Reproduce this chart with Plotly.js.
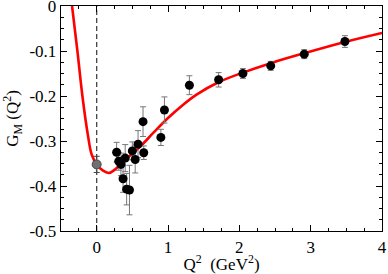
<!DOCTYPE html>
<html>
<head>
<meta charset="utf-8">
<script src="https://cdn.plot.ly/plotly-3.0.1.min.js"></script>
<style>html,body{margin:0;padding:0;background:#fff;}#chart{width:388px;height:274px;}</style>
</head>
<body>
<div id="chart"></div>
<script>
// Experimental data (black points)
var dataQ2 = [0.28, 0.31, 0.34, 0.37, 0.40, 0.42, 0.46, 0.50, 0.54, 0.58, 0.65, 0.66, 0.90, 0.95, 1.30, 1.71, 2.05, 2.44, 2.91, 3.48];
var dataGM = [-0.325, -0.345, -0.352, -0.384, -0.338, -0.407, -0.409, -0.322, -0.341, -0.307, -0.257, -0.326, -0.292, -0.231, -0.176, -0.164, -0.150, -0.133, -0.107, -0.079];
var dataErr = [0.022, 0.02, 0.025, 0.03, 0.03, 0.035, 0.055, 0.02, 0.03, 0.03, 0.033, 0.015, 0.018, 0.029, 0.021, 0.016, 0.011, 0.01, 0.01, 0.013];
// Point at Q2 = 0 (gray)
var zeroQ2 = [0];
var zeroGM = [-0.352];
var zeroErr = [0.018];
// Model curve (red)
var curveQ2 = [-0.345, -0.27, -0.2, -0.12, -0.07, 0, 0.09, 0.17, 0.26, 0.40, 0.6, 0.8, 1.0, 1.2, 1.4, 1.7, 2.05, 2.44, 2.91, 3.48, 4.0];
var curveGM = [0.0, -0.1, -0.2, -0.29, -0.33, -0.352, -0.366, -0.371, -0.363, -0.342, -0.314, -0.281, -0.249, -0.221, -0.197, -0.170, -0.148, -0.127, -0.105, -0.080, -0.060];
// Vertical dashed line at Q2 = 0
var vlineQ2 = [0, 0];
var vlineGM = [-0.5, 0];

var xTicks = [0, 1, 2, 3, 4];
var yTicks = [0, -0.1, -0.2, -0.3, -0.4, -0.5];
var yTickText = ['0', '-0.1', '-0.2', '-0.3', '-0.4', '-0.5'];

var font = {family: '"Liberation Serif", "DejaVu Serif", serif', size: 17, color: '#000'};

var traces = [
  {x: vlineQ2, y: vlineGM, mode: 'lines', line: {color: '#444', width: 1.3, dash: '5px,3px'}, hoverinfo: 'skip'},
  {x: curveQ2, y: curveGM, mode: 'lines', line: {color: '#ff0000', width: 2.6, shape: 'spline', smoothing: 1}},
  {x: zeroQ2, y: zeroGM, mode: 'markers', marker: {color: '#707070', size: 9, line: {color: '#444', width: 1}},
   error_y: {type: 'data', array: zeroErr, visible: true, color: '#444', thickness: 1, width: 3}},
  {x: dataQ2, y: dataGM, mode: 'markers', marker: {color: '#000', size: 9},
   error_y: {type: 'data', array: dataErr, visible: true, color: '#777', thickness: 1, width: 3}}
];

var layout = {
  width: 388, height: 274,
  margin: {l: 61, r: 6, t: 6, b: 43},
  paper_bgcolor: '#fff', plot_bgcolor: '#fff',
  showlegend: false,
  font: font,
  xaxis: {
    range: [-0.5, 4], tickmode: 'array', tickvals: xTicks, ticktext: xTicks.map(String),
    ticks: 'inside', ticklen: 6, tickwidth: 1, tickcolor: '#000',
    minor: {dtick: 0.25, ticks: 'inside', ticklen: 3, tickcolor: '#000', tickwidth: 1},
    showline: true, linecolor: '#000', linewidth: 1.3, mirror: 'ticks',
    showgrid: false, zeroline: false, ticklabeloverflow: 'allow',
    tickfont: font,
    title: {text: 'Q<sup>2</sup>  (GeV<sup>2</sup>)', font: font, standoff: 2}
  },
  yaxis: {
    range: [-0.5, 0], tickmode: 'array', tickvals: yTicks, ticktext: yTickText,
    ticks: 'inside', ticklen: 6, tickwidth: 1, tickcolor: '#000',
    minor: {dtick: 0.025, ticks: 'inside', ticklen: 3, tickcolor: '#000', tickwidth: 1},
    showline: true, linecolor: '#000', linewidth: 1.3, mirror: 'ticks',
    showgrid: false, zeroline: false, ticklabeloverflow: 'allow',
    tickfont: font,
    title: {text: 'G<sub>M</sub> (Q<sup>2</sup>)', font: font, standoff: 6}
  }
};

Plotly.newPlot('chart', traces, layout, {staticPlot: true, displayModeBar: false});
</script>
</body>
</html>
